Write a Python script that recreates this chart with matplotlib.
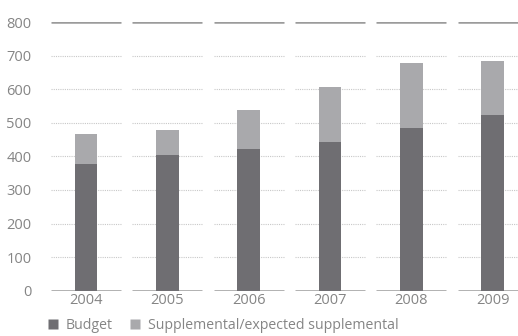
import matplotlib.pyplot as plt
from matplotlib.lines import Line2D
import numpy as np

plt.rcParams['font.family'] = ['Open Sans', 'DejaVu Sans']

# data
years = ['2004', '2005', '2006', '2007', '2008', '2009']
budget = [377, 404, 422, 443, 484, 523]
total = [466, 478, 538, 606, 678, 684]
supplemental = [t - b for t, b in zip(total, budget)]
y_ticks = [0, 100, 200, 300, 400, 500, 600, 700, 800]

dark = '#6f6e72'
light = '#a9a9ac'
text_col = '#858585'

fig = plt.figure(figsize=(5.18, 3.36), dpi=100)
ax = fig.add_axes([0.0985, 0.1348, 0.9015, 0.7997])

x = np.arange(len(years))
half = 0.43

# gridlines drawn as separate pieces per category
for yv in y_ticks:
    yy = np.full(len(x), yv)
    if yv in (0, 800):
        ax.hlines(yy, x - half, x + half, colors='#9b9b9b', linewidth=1.8, zorder=1)
    else:
        ax.hlines(yy, x - half, x + half, colors='#c8c8c8', linewidth=0.8,
                  linestyles=(0, (1, 1)), zorder=1)

ax.bar(x, budget, width=0.28, color=dark, zorder=2)
ax.bar(x, supplemental, bottom=budget, width=0.28, color=light, zorder=2)

ax.set_xlim(-0.43, 5.31)
ax.set_ylim(0, 800)
ax.set_yticks(y_ticks)
ax.set_xticks(x)
ax.set_xticklabels(years)
ax.tick_params(length=0, labelsize=10.5, colors=text_col)
ax.tick_params(axis='y', pad=14)
ax.tick_params(axis='x', pad=2)
for s in ax.spines.values():
    s.set_visible(False)

handles = [Line2D([], [], marker='s', color='none', markerfacecolor=dark,
                  markeredgecolor='none', markersize=7.5),
           Line2D([], [], marker='s', color='none', markerfacecolor=light,
                  markeredgecolor='none', markersize=7.5)]
fig.legend(handles, ['Budget', 'Supplemental/expected supplemental'],
           loc='lower left', bbox_to_anchor=(0.066, -0.028), ncol=2, frameon=False,
           handlelength=0.8, handletextpad=0.5, columnspacing=1.2,
           labelcolor=text_col, fontsize=10.2)

fig.savefig('out.png', dpi=100)
